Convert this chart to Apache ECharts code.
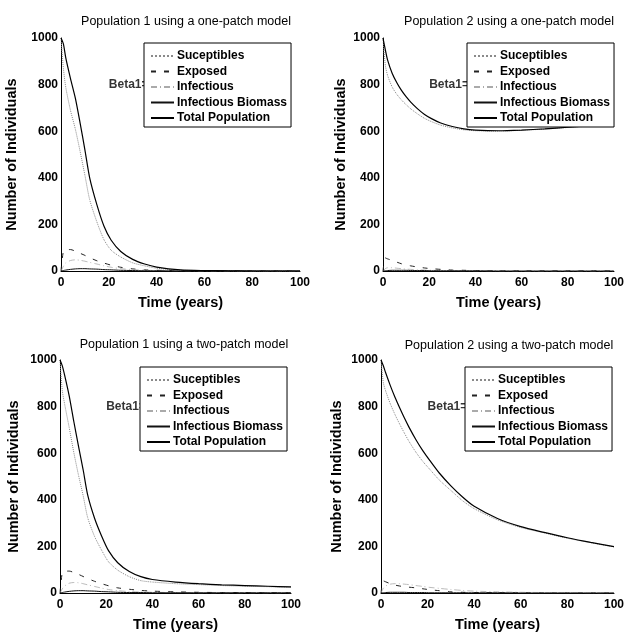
<!DOCTYPE html>
<html>
<head>
<meta charset="utf-8">
<script src="https://cdn.jsdelivr.net/npm/echarts@6/dist/echarts.min.js"></script>
<style>
  html, body { margin: 0; padding: 0; background: #fff; }
  #chart { width: 627px; height: 634px; }
</style>
</head>
<body>
<div id="chart"></div>
<script>
// time points (years)
const years = [0, 1, 2, 4, 6, 8, 10, 12, 15, 18, 21, 25, 30, 35, 40, 50, 60, 70, 80, 90, 100];
const names = ['Suceptibles', 'Exposed', 'Infectious', 'Infectious Biomass', 'Total Population'];
const titles = [
  'Population 1 using a one-patch model',
  'Population 2 using a one-patch model',
  'Population 1 using a two-patch model',
  'Population 2 using a two-patch model'
];

// population 1, one-patch
const p1oneS = [1000, 870, 788, 688, 609, 513, 411, 306, 211, 134, 89, 60, 35, 22, 12, 3, 2, 1, 0, 0, 0];
const p1oneE = [0, 85, 92, 92, 85, 76, 67, 57, 44, 34, 25, 16, 9, 5, 3, 1, 0, 0, 0, 0, 0];
const p1oneI = [0, 20, 35, 45, 48, 46, 42, 37, 30, 22, 16, 10, 6, 3, 2, 1, 0, 0, 0, 0, 0];
const p1oneB = [0, 2, 4, 7, 9, 10, 10, 9, 8, 6, 5, 3, 2, 1, 1, 0, 0, 0, 0, 0, 0];
const p1oneN = [1000, 975, 915, 825, 742, 635, 520, 400, 285, 192, 132, 84, 50, 30, 17, 5, 2, 1, 0, 0, 0];

// population 2, one-patch
const p2oneS = [1000, 884, 839, 789, 758, 734, 714, 696, 674, 655, 641, 626, 614, 606, 602, 600, 604, 609, 616, 622, 626];
const p2oneE = [0, 56, 52, 45, 38, 31, 26, 22, 17, 13, 10, 7, 4, 3, 2, 1, 1, 1, 1, 1, 1];
const p2oneI = [0, 10, 14, 14, 12, 10, 8, 7, 5, 4, 3, 2, 2, 1, 1, 1, 0, 0, 0, 0, 0];
const p2oneB = [0, 1, 2, 3, 3, 3, 3, 2, 2, 2, 1, 1, 1, 1, 1, 0, 0, 0, 0, 0, 0];
const p2oneN = [1000, 950, 905, 848, 808, 775, 748, 725, 696, 672, 654, 635, 620, 610, 605, 602, 605, 610, 617, 623, 628];

// population 1, two-patch
const p1twoS = [1000, 869, 811, 709, 602, 506, 419, 323, 242, 184, 134, 98, 70, 53, 47, 40, 36, 32, 29, 27, 24];
const p1twoE = [0, 88, 94, 94, 88, 80, 71, 62, 50, 40, 31, 22, 16, 11, 8, 5, 3, 2, 2, 1, 1];
const p1twoI = [0, 18, 30, 42, 45, 44, 40, 35, 28, 21, 15, 10, 6, 4, 3, 2, 1, 1, 1, 1, 1];
const p1twoB = [0, 2, 4, 7, 9, 10, 10, 9, 8, 6, 5, 3, 2, 2, 1, 1, 1, 1, 1, 1, 1];
const p1twoN = [1000, 975, 935, 845, 735, 630, 530, 420, 320, 245, 182, 130, 92, 70, 58, 47, 40, 35, 32, 29, 26];

// population 2, two-patch
const p2twoS = [1000, 903, 867, 812, 766, 725, 687, 651, 604, 564, 530, 485, 440, 396, 362, 314, 281, 258, 235, 216, 198];
const p2twoE = [0, 52, 48, 40, 34, 30, 27, 25, 22, 18, 14, 10, 5, 3, 2, 1, 1, 0, 0, 0, 0];
const p2twoI = [0, 20, 30, 38, 40, 40, 38, 36, 32, 28, 24, 20, 15, 11, 8, 5, 3, 2, 2, 1, 1];
const p2twoB = [0, 1, 2, 3, 3, 3, 3, 2, 2, 2, 1, 1, 1, 1, 1, 1, 0, 0, 0, 0, 0];
const p2twoN = [1000, 975, 945, 890, 840, 795, 752, 712, 658, 610, 568, 515, 460, 412, 372, 320, 285, 260, 237, 217, 199];

// text annotation position (data coords)
const betaAt = [20, 800];

const panels = [
  [p1oneS, p1oneE, p1oneI, p1oneB, p1oneN],
  [p2oneS, p2oneE, p2oneI, p2oneB, p2oneN],
  [p1twoS, p1twoE, p1twoI, p1twoB, p1twoN],
  [p2twoS, p2twoE, p2twoI, p2twoB, p2twoN]
];

// layout per subplot
const grids = [
  { left: 61, top: 38, width: 239, height: 233 },
  { left: 383, top: 38, width: 239, height: 233 },
  { left: 60, top: 360, width: 231, height: 233 },
  { left: 381, top: 360, width: 237, height: 233 }
];
const titlePos = [[181, 10], [504, 10], [179, 333], [504, 334]];
const legendPos = [[144, 43], [467, 43], [140, 367], [465, 367]];
const yNameGap = [42, 35, 39, 37];

const lineStyles = [
  { type: 'dotted', width: 1, color: '#8a8a8a' },
  { type: [5, 8], width: 1, color: '#222' },
  { type: [6, 3, 1, 3], width: 0.8, color: '#aaa' },
  { type: 'solid', width: 1, color: '#111' },
  { type: 'solid', width: 1.2, color: '#000' }
];

const font = 'Liberation Sans, Arial, sans-serif';

let option = {
  animation: false,
  backgroundColor: '#fff',
  title: [],
  legend: [],
  grid: [],
  xAxis: [],
  yAxis: [],
  series: []
};

for (let g = 0; g < 4; g++) {
  option.grid.push(grids[g]);
  option.title.push({
    text: titles[g],
    left: titlePos[g][0],
    top: titlePos[g][1],
    textAlign: 'center',
    textStyle: { fontFamily: font, fontSize: 12.5, fontWeight: 'normal', color: '#000' }
  });
  option.legend.push({
    data: names,
    orient: 'vertical',
    left: legendPos[g][0],
    top: legendPos[g][1],
    itemWidth: 23,
    itemHeight: 14,
    itemGap: 3.5,
    padding: [7, 4, 3, 6],
    backgroundColor: '#fff',
    borderColor: '#000',
    borderWidth: 1,
    borderRadius: 0,
    z: 10,
    selectedMode: false,
    itemStyle: { opacity: 0 },
    textStyle: { fontFamily: font, fontSize: 12, fontWeight: 'bold', color: '#000', padding: [0, 0, 0, -2] }
  });
  option.xAxis.push({
    gridIndex: g,
    type: 'value',
    min: 0,
    max: 100,
    interval: 20,
    name: 'Time (years)',
    nameLocation: 'middle',
    nameGap: 24,
    nameTextStyle: { fontFamily: font, fontSize: 14.5, fontWeight: 'bold', color: '#000' },
    axisLine: { lineStyle: { color: '#000', width: 1 } },
    axisTick: { show: false },
    splitLine: { show: false },
    axisLabel: { fontFamily: font, fontSize: 12, fontWeight: 'bold', color: '#000', margin: 6 }
  });
  option.yAxis.push({
    gridIndex: g,
    type: 'value',
    min: 0,
    max: 1000,
    interval: 200,
    name: 'Number of Individuals',
    nameLocation: 'middle',
    nameGap: yNameGap[g],
    nameTextStyle: { fontFamily: font, fontSize: 14.5, fontWeight: 'bold', color: '#000' },
    axisLine: { show: true, lineStyle: { color: '#000', width: 1 } },
    axisTick: { show: false },
    splitLine: { show: false },
    axisLabel: {
      fontFamily: font, fontSize: 12, fontWeight: 'bold', color: '#000', margin: 3,
      formatter: v => String(v)
    }
  });

  panels[g].forEach((vals, k) => {
    option.series.push({
      name: names[k],
      type: 'line',
      xAxisIndex: g,
      yAxisIndex: g,
      data: years.map((t, i) => [t, vals[i]]),
      symbol: 'none',
      smooth: 0.25,
      lineStyle: lineStyles[k],
      itemStyle: { color: lineStyles[k].color },
      z: 2
    });
  });

  option.series.push({
    name: 'beta',
    type: 'scatter',
    xAxisIndex: g,
    yAxisIndex: g,
    data: [betaAt],
    symbolSize: 0,
    silent: true,
    label: {
      show: true,
      position: 'right',
      distance: 0,
      formatter: 'Beta1=0.001',
      fontFamily: font,
      fontSize: 12,
      fontWeight: 'bold',
      color: '#000'
    },
    z: 1
  });
}

const myChart = echarts.init(document.getElementById('chart'));
myChart.setOption(option);
</script>
</body>
</html>
